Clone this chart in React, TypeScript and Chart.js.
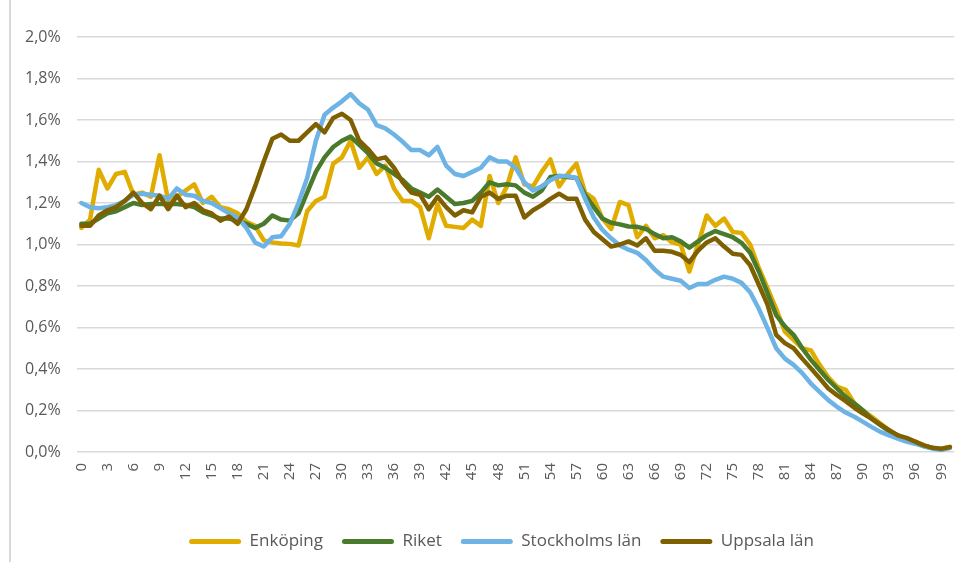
import React, { useEffect, useRef } from 'react';
import { Chart, registerables } from 'chart.js';

Chart.register(...registerables);

const ages = [
  '0','1','2','3','4','5','6','7','8','9','10','11','12','13','14','15','16','17','18','19',
  '20','21','22','23','24','25','26','27','28','29','30','31','32','33','34','35','36','37','38','39',
  '40','41','42','43','44','45','46','47','48','49','50','51','52','53','54','55','56','57','58','59',
  '60','61','62','63','64','65','66','67','68','69','70','71','72','73','74','75','76','77','78','79',
  '80','81','82','83','84','85','86','87','88','89','90','91','92','93','94','95','96','97','98','99','100'
];

const shownTicks = ['0','3','6','9','12','15','18','21','24','27','30','33','36','39','42','45','48','51','54','57','60','63','66','69','72','75','78','81','84','87','90','93','96','99'];

const yTicks = [0, 0.2, 0.4, 0.6, 0.8, 1.0, 1.2, 1.4, 1.6, 1.8, 2.0];

const enkoping = [
  1.08, 1.12, 1.36, 1.27, 1.34, 1.35, 1.24, 1.25, 1.23, 1.43,
  1.21, 1.23, 1.26, 1.29, 1.20, 1.23, 1.18, 1.17, 1.15, 1.11,
  1.09, 1.02, 1.01, 1.005, 1.003, 0.995, 1.16, 1.21, 1.23, 1.39,
  1.42, 1.50, 1.37, 1.42, 1.34, 1.38, 1.27, 1.21, 1.21, 1.18,
  1.03, 1.195, 1.09, 1.085, 1.08, 1.12, 1.09, 1.33, 1.20, 1.28,
  1.42, 1.29, 1.28, 1.35, 1.41, 1.28, 1.34, 1.39, 1.25, 1.22,
  1.125, 1.075, 1.205, 1.19, 1.035, 1.09, 1.03, 1.045, 1.01, 1.0,
  0.87, 1.0, 1.14, 1.09, 1.125, 1.06, 1.056, 1.0, 0.887, 0.79,
  0.69, 0.58, 0.54, 0.50, 0.49, 0.42, 0.36, 0.315, 0.30, 0.235,
  0.20, 0.17, 0.137, 0.105, 0.08, 0.06, 0.05, 0.032, 0.02, 0.013,
  0.024
];

const riket = [
  1.10, 1.10, 1.125, 1.15, 1.16, 1.18, 1.20, 1.19, 1.195, 1.195,
  1.195, 1.195, 1.19, 1.18, 1.155, 1.14, 1.125, 1.125, 1.115, 1.10,
  1.08, 1.10, 1.14, 1.12, 1.115, 1.15, 1.25, 1.35, 1.42, 1.47,
  1.50, 1.52, 1.48, 1.44, 1.39, 1.37, 1.34, 1.31, 1.27, 1.25,
  1.23, 1.265, 1.23, 1.195, 1.20, 1.21, 1.25, 1.30, 1.285, 1.29,
  1.285, 1.25, 1.23, 1.26, 1.325, 1.33, 1.325, 1.32, 1.24, 1.18,
  1.125, 1.105, 1.097, 1.087, 1.085, 1.075, 1.05, 1.03, 1.035, 1.015,
  0.985, 1.015, 1.045, 1.065, 1.05, 1.035, 1.008, 0.96, 0.87, 0.766,
  0.66, 0.605, 0.565, 0.50, 0.444, 0.395, 0.347, 0.306, 0.266, 0.234,
  0.20, 0.16, 0.129, 0.10, 0.08, 0.06, 0.045, 0.029, 0.019, 0.013,
  0.021
];

const stockholm = [
  1.20, 1.18, 1.175, 1.18, 1.19, 1.21, 1.24, 1.245, 1.24, 1.235,
  1.22, 1.27, 1.24, 1.235, 1.21, 1.20, 1.175, 1.15, 1.13, 1.08,
  1.01, 0.99, 1.035, 1.04, 1.10, 1.20, 1.32, 1.50, 1.625, 1.66,
  1.69, 1.725, 1.68, 1.65, 1.575, 1.56, 1.53, 1.495, 1.455, 1.455,
  1.43, 1.47, 1.38, 1.34, 1.33, 1.35, 1.37, 1.42, 1.40, 1.40,
  1.37, 1.30, 1.26, 1.28, 1.31, 1.33, 1.33, 1.32, 1.22, 1.13,
  1.07, 1.03, 0.995, 0.975, 0.96, 0.925, 0.88, 0.845, 0.835, 0.825,
  0.79, 0.81, 0.81, 0.83, 0.845, 0.835, 0.815, 0.77, 0.69, 0.597,
  0.50, 0.45, 0.42, 0.38, 0.33, 0.29, 0.25, 0.218, 0.19, 0.17,
  0.145, 0.12, 0.097, 0.08, 0.065, 0.05, 0.04, 0.027, 0.016, 0.011,
  0.019
];

const uppsala = [
  1.09, 1.09, 1.14, 1.165, 1.18, 1.21, 1.25, 1.20, 1.17, 1.235,
  1.17, 1.235, 1.18, 1.20, 1.165, 1.15, 1.115, 1.135, 1.10, 1.17,
  1.28, 1.40, 1.51, 1.53, 1.50, 1.50, 1.54, 1.58, 1.54, 1.61,
  1.63, 1.60, 1.50, 1.46, 1.41, 1.42, 1.37, 1.30, 1.25, 1.24,
  1.17, 1.23, 1.18, 1.14, 1.165, 1.155, 1.23, 1.25, 1.22, 1.235,
  1.235, 1.13, 1.165, 1.19, 1.22, 1.245, 1.22, 1.22, 1.12, 1.06,
  1.025, 0.99, 1.0, 1.015, 0.995, 1.03, 0.97, 0.97, 0.965, 0.95,
  0.915, 0.97, 1.01, 1.03, 0.99, 0.955, 0.95, 0.90, 0.806, 0.71,
  0.565, 0.525, 0.50, 0.45, 0.403, 0.355, 0.306, 0.274, 0.245, 0.213,
  0.185, 0.16, 0.132, 0.105, 0.08, 0.068, 0.05, 0.032, 0.02, 0.016,
  0.024
];

const seriesNames = ['Enköping', 'Riket', 'Stockholms län', 'Uppsala län'];
const seriesColors = ['#E0AC00', '#4A7B2C', '#6DB3E5', '#7F6000'];

export default function App() {
  const canvasRef = useRef<HTMLCanvasElement | null>(null);

  useEffect(() => {
    const canvas = canvasRef.current;
    if (!canvas) return;
    const seriesData = [enkoping, riket, stockholm, uppsala];
    const font = "'Open Sans', 'DejaVu Sans', sans-serif";
    const chart = new Chart(canvas, {
      type: 'line',
      data: {
        labels: ages,
        datasets: seriesData.map((d, i) => ({
          label: seriesNames[i],
          data: d,
          borderColor: seriesColors[i],
          backgroundColor: seriesColors[i],
          borderWidth: 4.5,
          pointRadius: 0,
          pointHoverRadius: 0,
          tension: 0,
          fill: false,
          borderCapStyle: 'round' as const,
          borderJoinStyle: 'round' as const,
          order: 4 - i,
        })),
      },
      options: {
        animation: false,
        responsive: false,
        devicePixelRatio: 1,
        layout: { padding: { left: 40, right: 16, top: 37, bottom: 2 } },
        plugins: {
          tooltip: { enabled: false },
          legend: {
            position: 'bottom',
            labels: {
              boxWidth: 52,
              boxHeight: 5,
              padding: 19,
              color: '#595959',
              font: { family: font, size: 17 },
              useBorderRadius: true,
              borderRadius: 2.5,
              sort: (a: any, b: any) => a.datasetIndex - b.datasetIndex,
              generateLabels: (ch: any) => {
                const items = Chart.defaults.plugins.legend.labels.generateLabels(ch);
                return items.map((it: any) => ({ ...it, lineWidth: 0, strokeStyle: it.fillStyle }));
              },
            },
          },
        },
        scales: {
          x: {
            type: 'category',
            offset: true,
            grid: { display: false, drawTicks: false },
            border: { display: false },
            ticks: {
              autoSkip: false,
              maxRotation: 90,
              minRotation: 90,
              padding: 11,
              color: '#595959',
              font: { family: font, size: 15 },
              callback: function (this: any, value: any) {
                const lab = ages[value as number];
                return shownTicks.includes(lab) ? lab : '';
              },
            },
            afterFit: (scale: any) => { scale.height = 62; },
          },
          y: {
            min: 0,
            max: 2.0,
            afterBuildTicks: (scale: any) => { scale.ticks = yTicks.map((v) => ({ value: v })); },
            grid: { color: '#D9D9D9', lineWidth: 1.5, drawTicks: false },
            border: { display: false },
            ticks: {
              mirror: true,
              padding: -52,
              color: '#595959',
              font: { family: font, size: 16 },
              callback: (v: any) => Number(v).toFixed(1).replace('.', ',') + '%',
            },
            afterFit: (scale: any) => { scale.width = 37; },
          },
        },
      },
    });
    return () => chart.destroy();
  }, []);

  return (
    <div style={{ position: 'absolute', left: 0, top: 0, width: 979, height: 562, background: '#fff' }}>
      <div style={{ position: 'absolute', left: 9, top: 0, width: 2, height: 562, background: '#D9D9D9' }} />
      <canvas ref={canvasRef} width={979} height={562} style={{ position: 'absolute', left: 0, top: 0, width: 979, height: 562 }} />
    </div>
  );
}
